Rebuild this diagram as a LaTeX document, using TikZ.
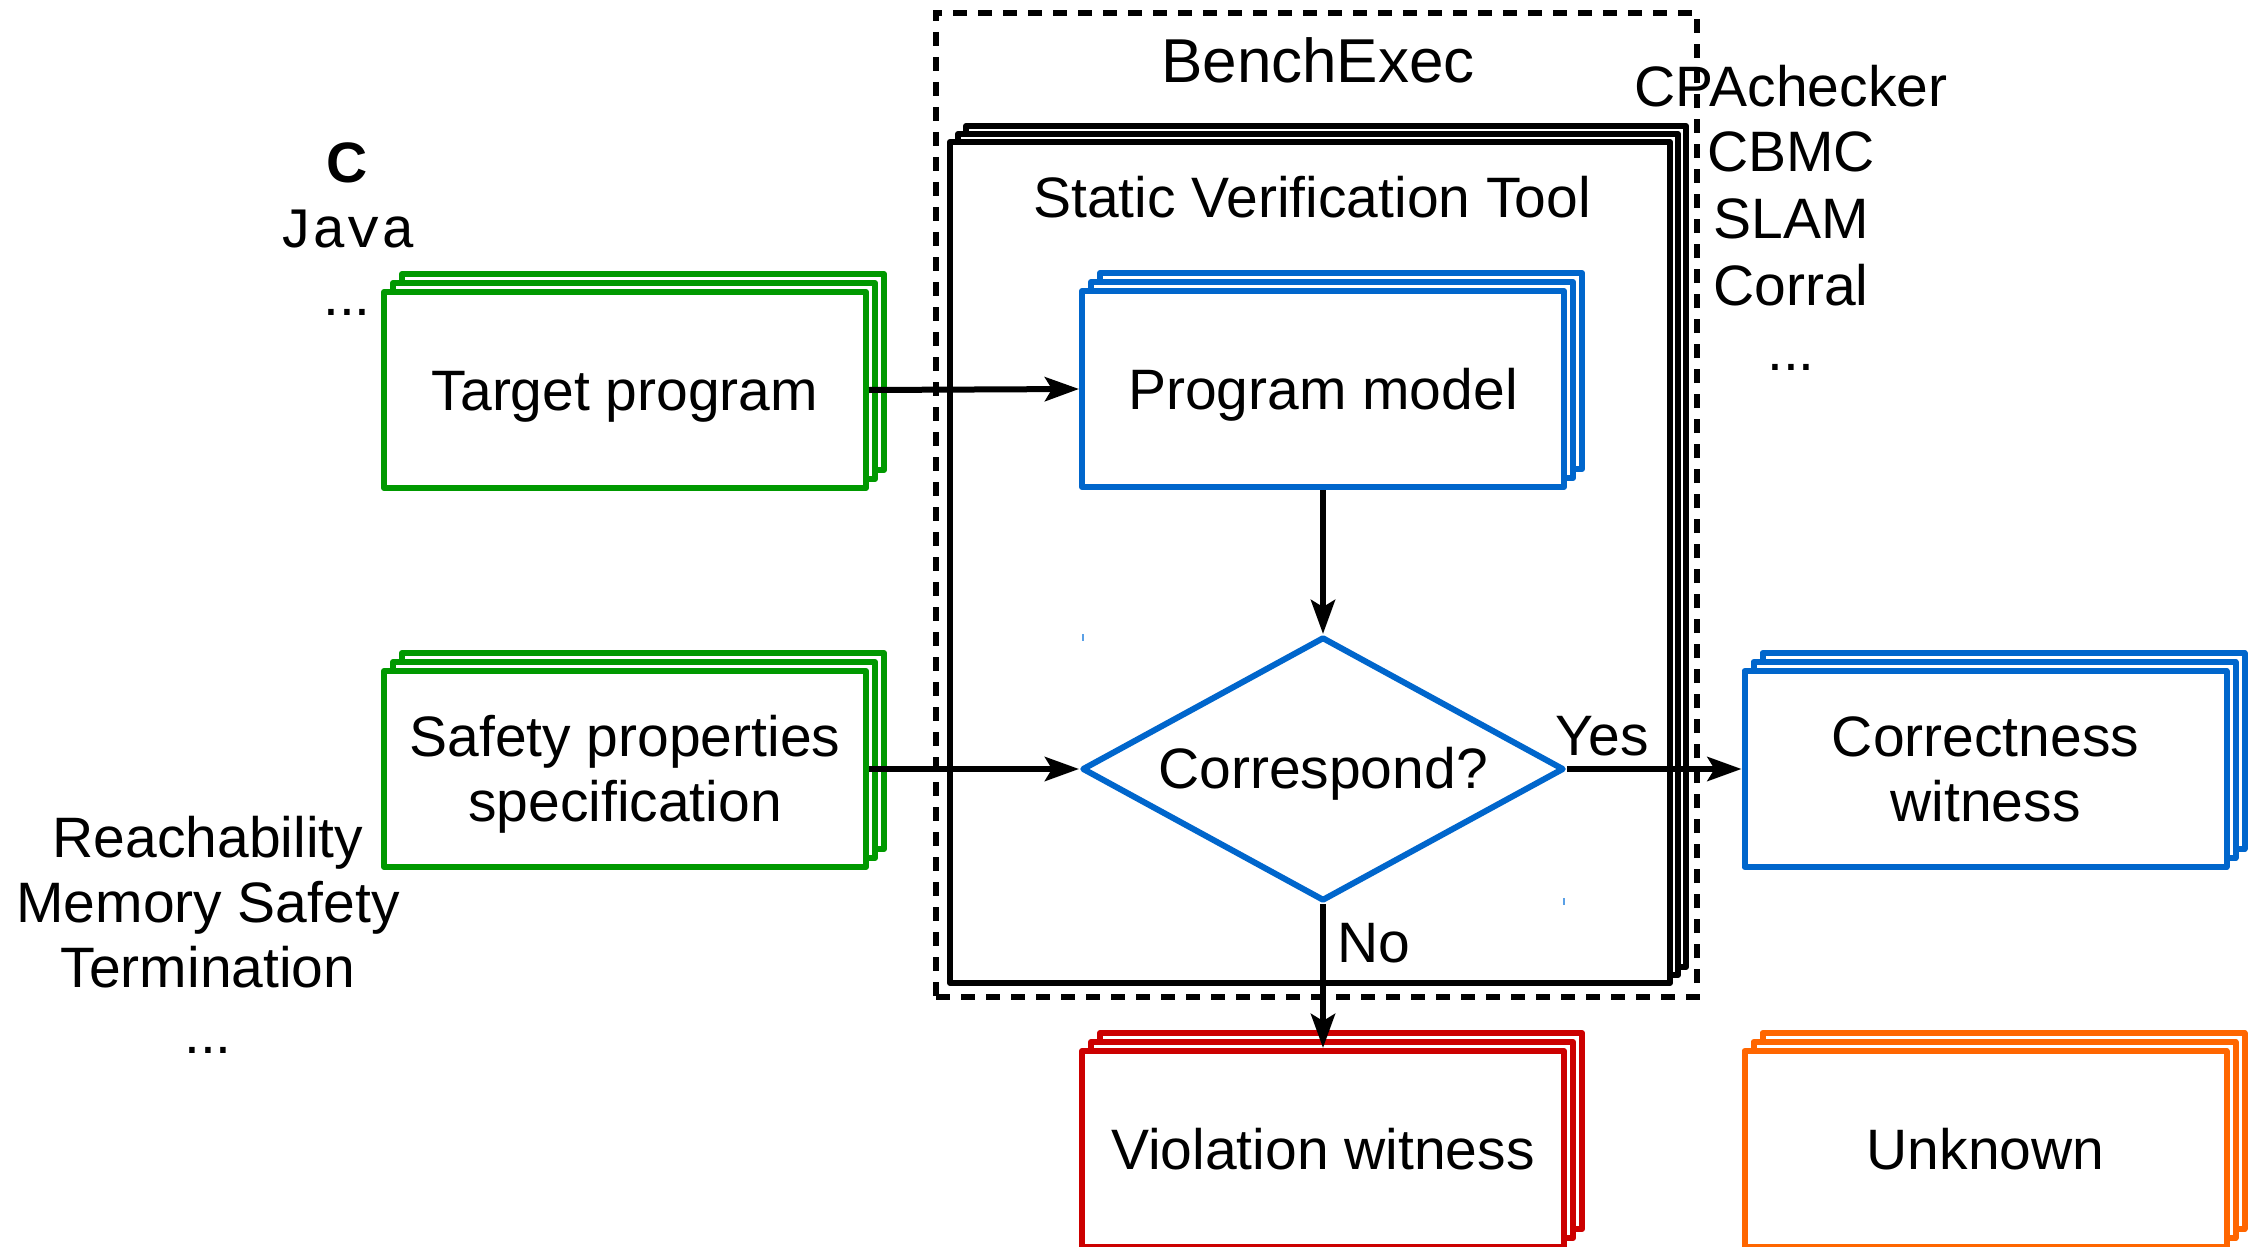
\documentclass[tikz,border=0pt]{standalone}
\usepackage{fontspec}
\setmainfont{Liberation Sans}
\newfontfamily\codefont{Liberation Mono}
\usetikzlibrary{arrows.meta,shapes.geometric,shadows}

\definecolor{cgreen}{RGB}{0,153,0}
\definecolor{cblue}{RGB}{0,102,204}
\definecolor{cred}{RGB}{204,0,0}
\definecolor{corange}{RGB}{255,102,0}
\definecolor{ctick}{RGB}{90,160,230}

\tikzset{
  lw/.style={line width=3pt, line join=round},
  txt/.style={font=\fontsize{28.5pt}{32.5pt}\selectfont, inner sep=0pt},
  % a stack of three cards, drawn back to front
  card/.style={txt, draw=#1, fill=white, lw,
    minimum width=241pt, minimum height=98pt, align=center,
    text height=25.5pt, text depth=5.1pt,
    general shadow={shadow xshift=9pt, shadow yshift=9pt, draw=#1, fill=white, lw},
    general shadow={shadow xshift=4.5pt, shadow yshift=4.5pt, draw=#1, fill=white, lw}},
  twoline/.style={text height=58pt, text depth=5.1pt},
  toolbox/.style={draw=black, fill=white, lw,
    minimum width=360pt, minimum height=420.5pt, inner sep=0pt,
    general shadow={shadow xshift=8pt, shadow yshift=8pt, draw=black, fill=white, lw},
    general shadow={shadow xshift=4pt, shadow yshift=4pt, draw=black, fill=white, lw}},
  frame/.style={draw=black, lw, line join=miter, dash pattern=on 7pt off 5.5pt,
    minimum width=380.5pt, minimum height=492pt, inner sep=0pt},
  decision/.style={txt, shape=diamond, draw=cblue, fill=white, lw,
    aspect=1.826, minimum width=241pt, minimum height=132pt,
    text height=24pt, text depth=5pt},
  arr/.style={draw=black, lw,
    -{Stealth[length=17pt, width=12pt, inset=3.5pt]}},
  lbl/.style={txt, anchor=base},
  tick/.style={draw=ctick, line width=1pt},
}

\begin{document}
\begin{tikzpicture}[x=0.5pt, y=-0.5pt]
\useasboundingbox (0,0) rectangle (2256,1247);

% BenchExec frame and the verification tool inside it
\node[frame] (bench) at (1316.5,505) {};
\node[lbl, font=\fontsize{31pt}{35pt}\selectfont] (benchlabel) at (1318,83) {BenchExec};
\node[toolbox] (svt) at (1310,562.5) {};
\node[lbl] (svtlabel) at (1312,218) {Static Verification Tool};

% cards
\node[card=cgreen] (tp) at (625,390) {Target program};
\node[card=cgreen, twoline] (sp) at (625,769) {Safety properties\\specification};
\node[card=cblue] (pm) at (1323,389) {Program model};
\node[card=cblue, twoline] (cw) at (1985.5,769) {Correctness\\witness};
\node[card=cred] (vw) at (1323,1149) {Violation witness};
\node[card=corange] (un) at (1985.5,1149) {Unknown};

% decision
\node[decision] (cor) at (1323,769) {Correspond?};
\coordinate (tka) at (1083,634);
\coordinate (tkb) at (1083,641);
\coordinate (tkc) at (1564,898);
\coordinate (tkd) at (1564,905);
\draw[tick] (tka) -- (tkb);
\draw[tick] (tkc) -- (tkd);

% connectors
\draw[arr] (tp.east) -- (pm.west);
\draw[arr] (pm.south) -- (cor.north);
\draw[arr] (sp.east) -- (cor.west);
\draw[arr] (cor.east) -- (cw.west);
\draw[arr] (cor.south) -- (vw.north);
\node[lbl] (yes) at (1602,755) {Yes};
\node[lbl] (no) at (1374,962) {No};

% languages
\node[lbl] (lc) at (347,183) {\bfseries C};
\node[lbl] (ljava) at (347,248) {\codefont Java};
\node[lbl] (lmore) at (347,315) {...};

% properties
\node[lbl] (preach) at (208,857) {Reachability};
\node[lbl] (pmem) at (208,922) {Memory Safety};
\node[lbl] (pterm) at (208,987) {Termination};
\node[lbl] (pmore) at (208,1053) {...};

% tools
\node[lbl] (tcpa) at (1791,107) {CPAchecker};
\node[lbl] (tcbmc) at (1791,172) {CBMC};
\node[lbl] (tslam) at (1791,238) {SLAM};
\node[lbl] (tcorral) at (1791,305) {Corral};
\node[lbl] (tmore) at (1791,370) {...};
\end{tikzpicture}
\end{document}
